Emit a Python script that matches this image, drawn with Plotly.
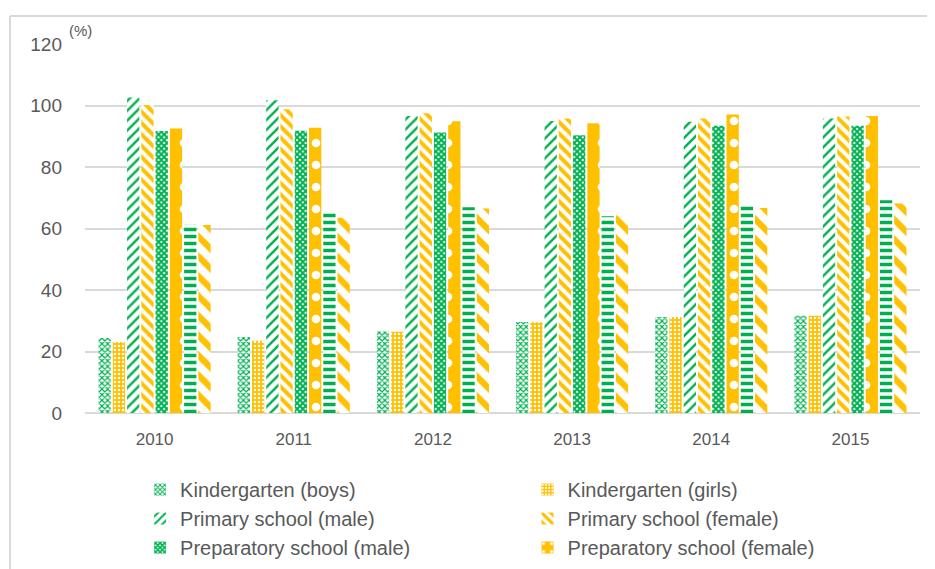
import plotly.graph_objects as go

years = ["2010", "2011", "2012", "2013", "2014", "2015"]

kg_boys = [24.4, 24.7, 26.5, 29.6, 31.2, 31.6]
kg_girls = [23.1, 23.5, 26.4, 29.5, 31.2, 31.6]
primary_male = [102.6, 101.7, 96.6, 95.0, 94.7, 95.8]
primary_female = [100.2, 98.8, 97.5, 95.8, 95.8, 96.4]
prep_male = [91.7, 91.8, 91.2, 90.3, 93.4, 93.4]
prep_female = [92.5, 92.8, 94.9, 94.2, 97.1, 96.6]
secondary_male = [61.3, 65.2, 66.9, 64.0, 67.3, 69.2]
secondary_female = [61.1, 63.5, 66.5, 64.3, 66.7, 68.1]

GREEN = "#00B050"
ORANGE = "#FFC000"

# (name, values, pattern, legend slot)
series = [
    ("Kindergarten (boys)", kg_boys, dict(shape="x", fgcolor=GREEN, bgcolor="white", size=4, solidity=0.5), "legend"),
    ("Kindergarten (girls)", kg_girls, dict(shape=".", fgcolor="white", bgcolor=ORANGE, size=4, solidity=0.3), "legend2"),
    ("Primary school (male)", primary_male, dict(shape="/", fgcolor=GREEN, bgcolor="white", size=7, solidity=0.35), "legend"),
    ("Primary school (female)", primary_female, dict(shape="\\", fgcolor=ORANGE, bgcolor="white", size=8, solidity=0.5), "legend2"),
    ("Preparatory school (male)", prep_male, dict(shape="x", fgcolor=GREEN, bgcolor="white", size=4, solidity=0.75), "legend"),
    ("Preparatory school (female)", prep_female, dict(shape=".", fgcolor="white", bgcolor=ORANGE, size=22, solidity=0.12), "legend2"),
    ("Secondary school (male)", secondary_male, dict(shape="-", fgcolor=GREEN, bgcolor="white", size=7, solidity=0.5), None),
    ("Secondary school (female)", secondary_female, dict(shape="\\", fgcolor=ORANGE, bgcolor="white", size=14, solidity=0.45), None),
]

fig = go.Figure()
for name, vals, pat, leg in series:
    fig.add_trace(go.Bar(
        x=years, y=vals, name=name, legendgroup=name,
        showlegend=leg is not None, legend=leg or "legend",
        marker=dict(color="white", line=dict(width=0), pattern=dict(fillmode="replace", **pat)),
    ))

legend_style = dict(orientation="v", y=-0.1546, yanchor="top", xanchor="left",
                    tracegroupgap=0, bgcolor="rgba(0,0,0,0)",
                    font=dict(size=20, color="#595959"), itemwidth=30)

fig.update_layout(
    width=935, height=569,
    margin=dict(l=77, r=23, t=36, b=164, autoexpand=False),
    paper_bgcolor="white", plot_bgcolor="white",
    font=dict(family="Liberation Sans", size=17, color="#595959"),
    barmode="group", bargap=0.18, bargroupgap=0.14,
    legend=dict(x=0.066, **legend_style),
    legend2=dict(x=0.53, **legend_style),
    showlegend=True,
)
fig.update_yaxes(range=[0, 120], dtick=20, showgrid=True, gridcolor="#D9D9D9", gridwidth=2,
                 zeroline=True, zerolinecolor="#D9D9D9", zerolinewidth=2,
                 ticks="", ticklabelstandoff=22, tickfont=dict(size=19, color="#595959"))
fig.update_xaxes(showline=False, ticks="", ticklabelstandoff=14, tickfont=dict(size=17, color="#595959"))

fig.add_annotation(text="(%)", xref="paper", yref="paper", x=-0.005, y=1 + 14 / 369,
                   xanchor="center", yanchor="middle", showarrow=False,
                   font=dict(size=15, color="#595959"))

# chart area border (top and left edges visible)
fig.add_shape(type="line", xref="paper", yref="paper", x0=-75 / 835, x1=850 / 835,
              y0=1 + 28 / 369, y1=1 + 28 / 369, line=dict(color="#D9D9D9", width=2))
fig.add_shape(type="line", xref="paper", yref="paper", x0=-75 / 835, x1=-75 / 835,
              y0=1 + 28 / 369, y1=-170 / 369, line=dict(color="#D9D9D9", width=2))

fig.write_html("out.html")
